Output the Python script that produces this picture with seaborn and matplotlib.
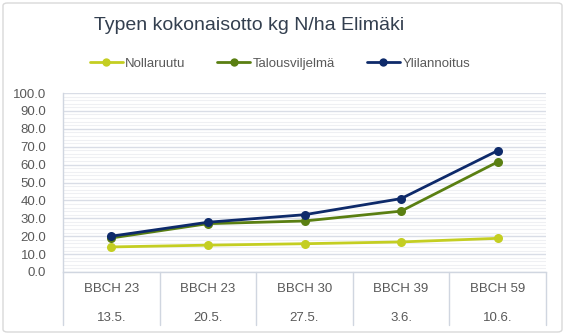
import matplotlib
matplotlib.use("Agg")
import matplotlib.pyplot as plt
import matplotlib.transforms as mtransforms
from matplotlib.patches import FancyBboxPatch
from matplotlib.lines import Line2D
import seaborn as sns
import pandas as pd

# Growth stages and sampling dates
stages = ["BBCH 23", "BBCH 23", "BBCH 30", "BBCH 39", "BBCH 59"]
dates = ["13.5.", "20.5.", "27.5.", "3.6.", "10.6."]

# Total nitrogen uptake, kg N/ha
nollaruutu = [14.0, 15.0, 15.8, 16.8, 18.8]
talousviljelma = [19.0, 27.0, 28.5, 34.0, 61.5]
ylilannoitus = [20.0, 27.8, 32.0, 41.0, 67.8]

series_names = ["Nollaruutu", "Talousviljelmä", "Ylilannoitus"]
series_values = [nollaruutu, talousviljelma, ylilannoitus]
colors = ["#C4CE22", "#5A7F12", "#0E2A6A"]

rows = []
for name, vals in zip(series_names, series_values):
    for i, v in enumerate(vals):
        rows.append({"pos": i, "value": v, "series": name})
df = pd.DataFrame(rows)

sns.set_theme(style="white")
plt.rcParams["font.family"] = ["Liberation Sans", "DejaVu Sans"]

fig = plt.figure(figsize=(5.65, 3.35), dpi=100)
ax = fig.add_axes([63 / 565, 1 - 272 / 335, (546 - 63) / 565, (272 - 93) / 335])

# Outer chart frame
frame = FancyBboxPatch((3 / 565, 3 / 335), 559 / 565, 329 / 335,
                       boxstyle="round,pad=0,rounding_size=0.008",
                       transform=fig.transFigure, facecolor="white",
                       edgecolor="#D9D9D9", linewidth=1.0, zorder=-10)
fig.patches.append(frame)

sns.lineplot(data=df, x="pos", y="value", hue="series", hue_order=series_names,
             palette=colors, marker="o", markersize=6.5, markeredgewidth=0,
             linewidth=2.0, ax=ax, legend=False, zorder=5)

ax.set_xlim(-0.5, len(stages) - 0.5)
ax.set_ylim(0, 100)
ax.set_yticks(range(0, 101, 10))
ax.set_yticklabels([f"{v:.1f}" for v in range(0, 101, 10)], fontsize=9.5, color="#595959")
ax.set_yticks(range(0, 101, 2), minor=True)
ax.grid(which="major", axis="y", color="#D9DDE6", linewidth=1.0)
ax.grid(which="minor", axis="y", color="#EFF0F3", linewidth=0.8)
ax.set_axisbelow(True)
ax.tick_params(axis="y", which="both", length=0, pad=12)
ax.set_xticks([])
ax.set_xlabel("")
ax.set_ylabel("")
for side in ["top", "right"]:
    ax.spines[side].set_visible(False)
ax.spines["left"].set_color("#D0D6E0")
ax.spines["bottom"].set_color("#D0D6E0")
ax.spines["left"].set_linewidth(1.0)
ax.spines["bottom"].set_linewidth(1.0)

# Two-level category labels below the axis with separators
trans = mtransforms.blended_transform_factory(ax.transData, ax.transAxes)
px = 1 / (272 - 93)
for b in [i - 0.5 for i in range(len(stages) + 1)]:
    ax.plot([b, b], [0, -(325 - 272) * px], transform=trans, color="#D0D6E0",
            linewidth=1.0, clip_on=False)
for i, (s, d) in enumerate(zip(stages, dates)):
    ax.text(i, -(289 - 272) * px, s, transform=trans, ha="center", va="center",
            fontsize=9.5, color="#595959")
    ax.text(i, -(318 - 272) * px, d, transform=trans, ha="center", va="center",
            fontsize=9.5, color="#595959")

fig.text(249 / 565, 1 - 25 / 335, "Typen kokonaisotto kg N/ha Elimäki",
         ha="center", va="center", fontsize=14, color="#333F4F")

handles = [Line2D([], [], color=c, marker="o", markersize=6, linewidth=2.0,
                  markeredgewidth=0) for c in colors]
fig.legend(handles, series_names, loc="center", ncol=3,
           bbox_to_anchor=(280 / 565, 1 - 64 / 335), frameon=False,
           fontsize=9.5, handlelength=2.5, handletextpad=0.2,
           columnspacing=2.4, labelcolor="#595959")

fig.savefig("out.png", dpi=100, facecolor="white")
